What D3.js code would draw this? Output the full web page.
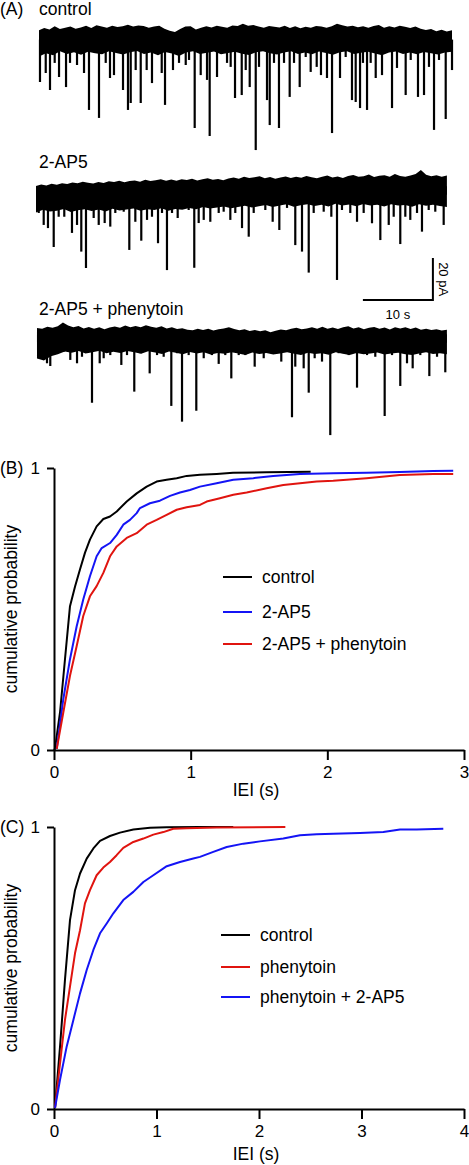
<!DOCTYPE html>
<html><head><meta charset="utf-8">
<script src="https://cdn.jsdelivr.net/npm/d3@7"></script>
<style>
body{margin:0;background:#fff;}
svg text{font-family:"Liberation Sans",Arial,sans-serif;fill:#000;}
</style></head><body>
<svg id="chart" width="469" height="1165"></svg>
<script>
// ---------- DATA ----------
// Panel A: traces (time in s, current in pA relative to baseline)
const traceLabels = ["control", "2-AP5", "2-AP5 + phenytoin"];
const traceSpans = [[0.43, 59.43], [0, 58.7], [0.14, 58.7]];

const ctrlEvents = [[0.57,-26.2],[1.39,-21.9],[2.0,-30],[2.67,-17.1],[3.29,-23.8],[4.29,-28.6],[4.86,-17.1],[5.86,-18.1],[6.86,-21.9],[7.57,-39.5],[9.0,-43.3],[9.96,-17.1],[10.57,-24.3],[11.14,-22.9],[12.43,-30],[13.14,-39.5],[13.53,-36.2],[14.24,-20.5],[14.96,-36.2],[15.81,-20.5],[16.57,-26.7],[17.96,-21.9],[18.43,-37.1],[19.57,-20.5],[20.43,-17.1],[21.39,-18.1],[21.86,-15.7],[22.67,-48.1],[23.53,-22.9],[24.43,-25.2],[24.81,-51.9],[25.86,-23.8],[27.29,-17.1],[27.81,-19],[28.43,-33.8],[29.39,-32.4],[29.96,-20.5],[30.53,-28.6],[31.39,-58.6],[31.86,-19],[33.0,-34.8],[33.39,-46.7],[34.0,-17.1],[34.71,-48.1],[35.43,-17.1],[36.24,-33.3],[36.86,-17.1],[37.67,-28.6],[38.53,-14.3],[39.24,-21.4],[40.1,-19],[40.71,-22.9],[41.57,-24.3],[42.29,-50.5],[43.43,-24.3],[44.24,-14.3],[45.14,-34.8],[45.67,-35.7],[46.29,-38.6],[46.71,-17.1],[47.29,-39.5],[47.81,-17.1],[48.53,-24.3],[49.43,-22.9],[50.86,-38.6],[51.57,-19.5],[52.81,-32.4],[53.53,-15.7],[54.57,-33.3],[55.43,-32.4],[56.14,-19],[56.86,-49],[57.57,-15.7],[58.53,-43.8],[59.43,-20.5]];
const ctrlTop = [-1.5,-0.5,-1.2,0.3,-1,-0.3,0.2,-0.8,-0.2,0.6,-0.5,0.8,0.2,-0.4,0.6,0,0.4,1.1,0.2,0.7,0.5,-0.3,0.2,0.6,-0.8,-1.8,-2.4,-1,0.2,0.4,-1.2,-0.3,0.4,-0.2,0.6,0.1,-0.3,0.7,0.5,1.5,0.6,0.9,0.2,-0.4,0.5,0.1,-0.2,0.6,-0.5,0.3,-0.6,0.1,-0.4,0.5,0.2,-0.3,0.4,1.5,0.8,0.2,0.6,-0.1,0.4,-0.3,0.5,0.9,-0.4,0.3,-0.2,0.6,0.1,-0.5,0.2,-0.8,-1.4,-0.9,-2,-1.3,-2.2,-1.5];
const ctrlBottom = [-14,-12.5,-13.5,-11.5,-12.8,-12,-13.2,-11.8,-12.5,-13,-11.6,-12.4,-13.1,-12,-11.4,-12.8,-12.2,-13.4,-11.9,-12.6,-13.8,-12.1,-11.5,-12.9,-12.3,-11.7,-13,-12.4,-11.8,-12.7,-13.3,-12,-11.6,-12.5,-13.1,-12.2,-11.5,-12.8,-12.1,-13,-11.7,-12.4,-13.2,-12,-11.6,-12.9,-12.3,-11.8,-12.6,-13.4,-12.1,-11.7,-12.8,-12.2,-13,-11.9,-12.5,-13.1,-12.2,-11.8];

const ap5Events = [[0.39,-15.7],[1.1,-21.4],[1.71,-22.9],[2.53,-31.9],[3.24,-17.5],[4.04,-17.5],[5.14,-25.2],[5.86,-21.4],[6.47,-34.1],[7.14,-41.9],[8.24,-18.1],[8.96,-21.4],[9.81,-20.5],[10.61,-22.2],[11.33,-15.7],[12.53,-15.1],[13.33,-33.3],[14.19,-19.9],[15.04,-28.9],[15.86,-19],[16.57,-17.5],[17.43,-30.1],[18.0,-15.7],[18.71,-42.9],[19.43,-15.7],[20.24,-18.1],[21.81,-14.3],[22.61,-41.8],[23.24,-20.5],[23.96,-19],[24.9,-19.9],[26.1,-15.7],[26.81,-15.1],[27.76,-19],[28.47,-15.7],[29.43,-22.9],[30.39,-27],[31.1,-15.7],[32.76,-14.3],[33.81,-19.9],[34.76,-23.8],[35.86,-13.3],[37.04,-31],[38.0,-34.1],[38.96,-44.1],[39.67,-15.7],[41.1,-15.1],[42.19,-17.5],[43.0,-47.6],[43.71,-14.3],[44.9,-15.7],[45.86,-19.9],[46.81,-15.7],[48.0,-20.6],[49.19,-28.6],[50.39,-21.4],[51.1,-17.5],[52.04,-30.5],[52.76,-17.5],[53.47,-19],[54.43,-15.7],[55.14,-24.6],[56.1,-14.3],[57.04,-15.1],[58.24,-21.4]];
const ap5Top = [-2.9,-2.2,-2.6,-1.8,-2.3,-1.5,-1.9,-1.2,-1.6,-0.8,-1.3,-1.7,-0.9,-1.4,-0.6,-1,-0.4,-1.1,-0.5,-0.2,-0.8,0.1,-0.5,-0.1,0.3,-0.4,0.2,-0.3,0.4,0,0.6,-0.2,0.3,0.8,0.1,0.5,-0.1,0.7,1.2,0.6,1.5,0.9,1.3,1.8,0.8,1.4,0.6,1.2,1.7,0.9,1.5,1.1,1.9,1.3,0.8,1.6,2.1,1.2,1.7,1,1.9,2.4,1.5,1.8,2.6,1.4,2,2.3,1.6,2.8,1.9,1.5,2.2,2.9,4.8,2.5,1.8,2.3,1.6,2.1];
const ap5Bottom = [-15.5,-14.2,-15,-14.6,-13.8,-15.2,-14.4,-13.9,-14.8,-14.1,-15,-13.7,-14.5,-14,-13.6,-14.7,-13.9,-14.3,-13.5,-14.6,-13.8,-14.2,-13.3,-13.9,-12.8,-13.6,-13.1,-12.6,-13.4,-12.9,-12.3,-13.1,-12.5,-11.9,-12.8,-12.2,-11.6,-12.7,-12,-11.5,-12.4,-11.8,-12.6,-11.3,-12.1,-11.7,-12.5,-11.4,-12.2,-11.8,-12.6,-11.5,-12.1,-11.9,-12.7,-11.6,-12.3,-11.8,-12.4,-12.8];

const phtEvents = [[1.57,-16.8],[2.04,-18.1],[3.0,-11.9],[3.96,-11.3],[4.9,-15.2],[5.86,-16.8],[6.57,-13.7],[8.0,-35.6],[9.1,-16.8],[9.67,-14.4],[10.61,-12.9],[12.19,-17.6],[13.0,-12.9],[14.04,-30.3],[14.9,-12],[16.24,-21.6],[17.29,-12.9],[18.24,-13.7],[19.33,-37.1],[20.14,-12],[20.86,-44.6],[21.81,-12.9],[22.9,-39.4],[23.96,-14.4],[25.14,-12.9],[26.1,-17.1],[27.04,-12.9],[27.9,-24],[28.96,-12.9],[29.9,-12.9],[31.24,-18.4],[32.53,-14.4],[33.96,-12],[35.04,-16],[36.57,-42.5],[37.04,-18.4],[38.24,-19.2],[38.96,-30.8],[39.81,-14.4],[40.86,-16],[42.04,-51],[43.24,-12],[44.67,-12.9],[45.86,-28.4],[47.29,-12.9],[48.47,-13.7],[49.81,-41.9],[50.86,-12.9],[52.04,-27.6],[53.0,-16.8],[53.81,-19.2],[54.9,-12.9],[56.19,-22.9],[57.29,-13.7],[58.47,-21.1]];
const phtTop = [0,-0.4,0.6,0.1,0.8,2.6,1.2,0.4,1,-0.2,0.5,-0.3,0.3,-0.6,0.2,0.7,0.1,1.2,0.4,0.9,0.3,1.3,0.6,0.1,0.8,-0.2,0.4,-0.5,-0.1,-0.8,-1.1,-0.4,-0.9,-0.3,-1.2,-0.6,-0.2,0.3,-0.5,-1.1,-0.6,-1.4,-0.9,-1.6,-1.1,-2,-1.3,-0.7,-1.1,-0.4,0.1,-0.6,-0.2,0.3,-0.4,0.6,-0.3,0.2,-0.5,0.4,0.8,-0.2,0.3,-0.6,0.1,0.5,-0.4,0.2,-0.7,0.3,-0.2,0.4,-0.5,0.2,-0.8,-0.3,-1,-0.6,-1.2,-0.8];
const phtBottom = [-14.5,-15.5,-13.5,-12.5,-11.2,-11.8,-11,-12.2,-11.5,-10.8,-12,-11.3,-11.9,-10.9,-11.6,-12.3,-11.1,-11.7,-12.4,-11.2,-11.8,-12.5,-11.4,-12.1,-11.6,-12.6,-11.9,-12.3,-11.5,-12.2,-12.8,-11.7,-12.4,-11.9,-12.6,-12.1,-11.5,-12.3,-12.9,-11.8,-12.4,-12,-12.7,-11.6,-12.3,-12.8,-11.9,-12.5,-12.1,-11.7,-12.6,-12.2,-11.8,-12.5,-12.9,-12.1,-11.6,-12.4,-12,-12.5];

const scaleBarLabels = ["20 pA", "10 s"];

// Panel B: cumulative IEI distributions [IEI s, probability]
const bLegend = ["control", "2-AP5", "2-AP5 + phenytoin"];
const bControl = [[0,0],[0.007,0.004],[0.044,0.133],[0.08,0.32],[0.117,0.51],[0.154,0.58],[0.19,0.64],[0.227,0.70],[0.263,0.746],[0.312,0.793],[0.361,0.819],[0.41,0.828],[0.459,0.846],[0.532,0.881],[0.605,0.91],[0.678,0.934],[0.751,0.952],[0.824,0.958],[0.898,0.964],[0.971,0.972],[1.068,0.976],[1.19,0.979],[1.31,0.983],[1.556,0.985],[1.878,0.987]];
const bAP5 = [[0.02,0.004],[0.068,0.18],[0.117,0.322],[0.166,0.439],[0.214,0.534],[0.263,0.616],[0.312,0.687],[0.349,0.716],[0.41,0.734],[0.459,0.763],[0.507,0.799],[0.556,0.816],[0.605,0.84],[0.629,0.858],[0.702,0.875],[0.775,0.884],[0.849,0.901],[0.922,0.913],[0.995,0.922],[1.068,0.934],[1.19,0.946],[1.312,0.958],[1.458,0.964],[1.604,0.972],[1.8,0.979],[2.043,0.981],[2.287,0.983],[2.531,0.986],[2.775,0.989],[2.921,0.99]];
const bAP5Phen = [[0.02,0.004],[0.068,0.133],[0.117,0.263],[0.166,0.369],[0.214,0.475],[0.263,0.545],[0.312,0.581],[0.361,0.628],[0.41,0.687],[0.459,0.722],[0.532,0.752],[0.605,0.769],[0.678,0.799],[0.751,0.816],[0.824,0.834],[0.898,0.852],[0.971,0.861],[1.068,0.869],[1.117,0.881],[1.214,0.893],[1.312,0.905],[1.41,0.913],[1.556,0.928],[1.678,0.94],[1.8,0.946],[1.922,0.952],[2.043,0.955],[2.287,0.964],[2.531,0.975],[2.775,0.979],[2.921,0.979]];
const bXTicks = [0, 1, 2, 3];

// Panel C
const cLegend = ["control", "phenytoin", "phenytoin + 2-AP5"];
const cControl = [[0.01,0.004],[0.059,0.222],[0.107,0.458],[0.156,0.67],[0.205,0.776],[0.254,0.835],[0.319,0.888],[0.384,0.924],[0.449,0.951],[0.546,0.968],[0.644,0.98],[0.774,0.991],[0.937,0.997],[1.1,0.999],[1.424,1.0],[1.749,1.0]];
const cPhen = [[0.01,0.004],[0.059,0.163],[0.107,0.316],[0.156,0.434],[0.205,0.552],[0.254,0.634],[0.302,0.729],[0.351,0.776],[0.416,0.829],[0.481,0.856],[0.546,0.876],[0.611,0.9],[0.676,0.926],[0.774,0.947],[0.872,0.959],[0.969,0.973],[1.067,0.982],[1.164,0.994],[1.294,0.996],[1.587,0.998],[2.257,1.0]];
const cPhenAP5 = [[0.01,0.004],[0.059,0.104],[0.124,0.222],[0.189,0.316],[0.254,0.41],[0.319,0.493],[0.384,0.564],[0.449,0.623],[0.514,0.658],[0.579,0.694],[0.676,0.741],[0.774,0.77],[0.872,0.805],[0.969,0.829],[1.1,0.861],[1.229,0.876],[1.359,0.888],[1.424,0.894],[1.554,0.912],[1.685,0.929],[1.847,0.941],[2.01,0.949],[2.237,0.959],[2.4,0.971],[2.563,0.974],[2.725,0.976],[2.985,0.979],[3.213,0.982],[3.376,0.991],[3.538,0.991],[3.798,0.994]];
const cXTicks = [0, 1, 2, 3, 4];
const yTicks = [0, 1];

// ---------- DRAW ----------
const BLACK = "#000", BLUE = "#1414f5", RED = "#e0140f";
const FONT = 17.5;
const svg = d3.select("#chart");

// Panel A
const xT = d3.scaleLinear().domain([0, 60]).range([36, 456]);
const traceY0 = [27, 180, 328];
const traces = [
  {ev: ctrlEvents, top: ctrlTop, bot: ctrlBottom},
  {ev: ap5Events, top: ap5Top, bot: ap5Bottom},
  {ev: phtEvents, top: phtTop, bot: phtBottom}
];
const labelY = [15, 168, 315];
svg.append("text").attr("x", 0).attr("y", 15).attr("font-size", FONT).text("(A)");
function grid(vals, span) {
  const n = vals.length;
  return vals.map((v, k) => ({t: span[0] + k * (span[1] - span[0]) / (n - 1), v}));
}
traces.forEach((tr, i) => {
  const yS = d3.scaleLinear().domain([0, -20]).range([traceY0[i], traceY0[i] + 42]);
  tr.yS = yS;
  const g = svg.append("g");
  g.append("path").datum(grid(tr.top, traceSpans[i])).attr("fill", BLACK)
    .attr("d", d3.area().x(d => xT(d.t)).y0(yS(-7)).y1(d => yS(d.v)));
  g.append("path").datum(grid(tr.bot, traceSpans[i])).attr("fill", BLACK)
    .attr("d", d3.area().x(d => xT(d.t)).y0(d => yS(d.v)).y1(yS(-3)));
  g.selectAll("path.ev").data(tr.ev).join("path").attr("class", "ev")
    .attr("fill", "none").attr("stroke", BLACK).attr("stroke-width", 2.2)
    .attr("d", d => `M${xT(d[0])},${yS(-6)}L${xT(d[0])},${yS(d[1])}`);
  svg.append("text").attr("x", 39).attr("y", labelY[i]).attr("font-size", FONT).text(traceLabels[i]);
});
// scale bar (attached to 2-AP5 trace scale)
{
  const yS = traces[1].yS;
  const tb0 = 46.7, tb1 = 56.7, a0 = -37.2, a1 = -57.2;
  svg.append("path").attr("fill", "none").attr("stroke", BLACK).attr("stroke-width", 2)
    .attr("d", `M${xT(tb0)},${yS(a1)}L${xT(tb1)},${yS(a1)}L${xT(tb1)},${yS(a0)}`);
  svg.append("text").attr("transform", `translate(${xT(tb1) + 6},${(yS(a0) + yS(a1)) / 2}) rotate(90)`)
    .attr("text-anchor", "middle").attr("font-size", 13).text(scaleBarLabels[0]);
  svg.append("text").attr("x", (xT(tb0) + xT(tb1)) / 2).attr("y", yS(a1) + 19)
    .attr("text-anchor", "middle").attr("font-size", 13).text(scaleBarLabels[1]);
}

// CDF panels
function cdfPanel(opt) {
  const x = d3.scaleLinear().domain(opt.xDomain).range([54, 464]);
  const y = d3.scaleLinear().domain([0, 1]).range([opt.y0, opt.y1]);
  const g = svg.append("g");
  const ax = g.append("g").attr("transform", `translate(0,${opt.y0})`)
    .call(d3.axisBottom(x).tickValues(opt.xTicks).tickSize(10).tickSizeOuter(0).tickPadding(6).tickFormat(d3.format("d")));
  const ay = g.append("g").attr("transform", `translate(54,0)`)
    .call(d3.axisLeft(y).tickValues(yTicks).tickSize(7).tickSizeOuter(0).tickPadding(7).tickFormat(d3.format("d")));
  [ax, ay].forEach(a => {
    a.selectAll("path,line").attr("stroke", BLACK).attr("stroke-width", 2);
    a.selectAll("text").attr("font-size", 17).attr("font-family", '"Liberation Sans",Arial,sans-serif').attr("fill", BLACK);
  });
  const line = d3.line().x(d => x(d[0])).y(d => y(d[1]));
  opt.series.forEach(s => {
    g.append("path").datum(s.data).attr("fill", "none").attr("stroke", s.color)
      .attr("stroke-width", 2).attr("stroke-linejoin", "round").attr("d", line);
  });
  opt.series.forEach((s, i) => {
    const ly = opt.legY[i];
    g.append("line").attr("x1", opt.legX).attr("x2", opt.legX + 29).attr("y1", ly).attr("y2", ly)
      .attr("stroke", s.color).attr("stroke-width", 2);
    g.append("text").attr("x", opt.legX + 39).attr("y", ly).attr("dy", "0.35em")
      .attr("font-size", FONT).text(s.name);
  });
  g.append("text").attr("x", 0).attr("y", opt.y1 + 6).attr("font-size", FONT).text(opt.label);
  g.append("text").attr("x", 256).attr("y", opt.y0 + opt.labOff).attr("text-anchor", "middle")
    .attr("font-size", FONT).text("IEI (s)");
  g.append("text").attr("transform", `translate(17,${(opt.y0 + opt.y1) / 2}) rotate(-90)`)
    .attr("text-anchor", "middle").attr("font-size", FONT).text("cumulative probability");
}

cdfPanel({
  xDomain: [0, 3], xTicks: bXTicks, y0: 750, y1: 468, label: "(B)", labOff: 46,
  legX: 223, legY: [577, 612, 644],
  series: [
    {name: bLegend[0], data: bControl, color: BLACK},
    {name: bLegend[1], data: bAP5, color: BLUE},
    {name: bLegend[2], data: bAP5Phen, color: RED}
  ]
});
cdfPanel({
  xDomain: [0, 4], xTicks: cXTicks, y0: 1109, y1: 827, label: "(C)", labOff: 51,
  legX: 221, legY: [935, 967, 997],
  series: [
    {name: cLegend[0], data: cControl, color: BLACK},
    {name: cLegend[1], data: cPhen, color: RED},
    {name: cLegend[2], data: cPhenAP5, color: BLUE}
  ]
});
</script>
</body></html>
